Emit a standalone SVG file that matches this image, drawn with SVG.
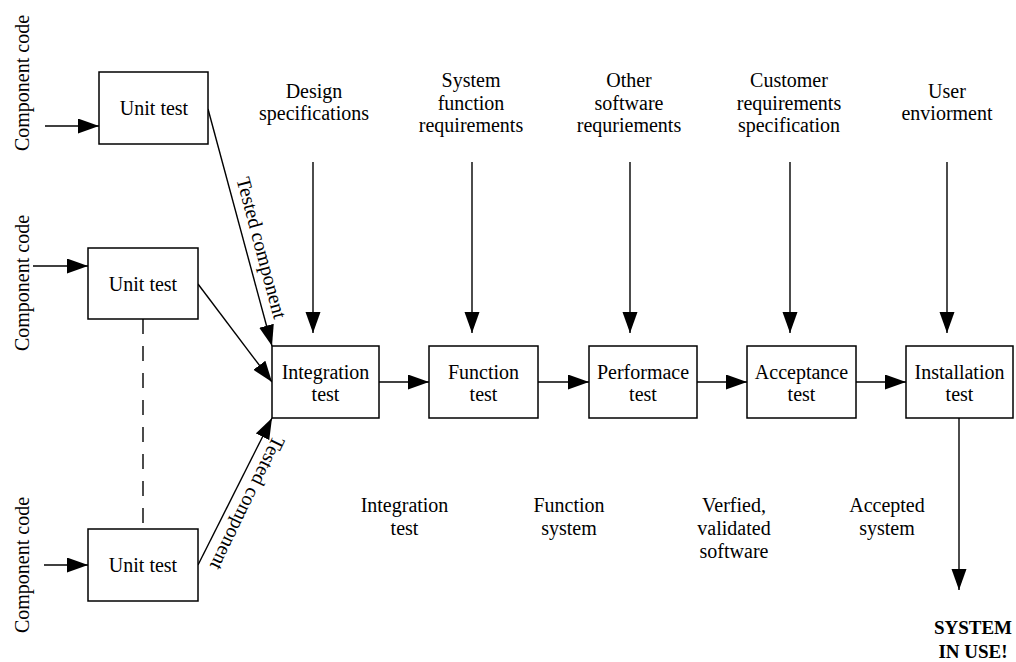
<svg xmlns="http://www.w3.org/2000/svg" width="1016" height="662" viewBox="0 0 1016 662">
<style>
text{font-family:"Liberation Serif","Times New Roman",serif;font-size:20px;fill:#000;text-anchor:middle}
.b{font-weight:bold;font-size:19px}
.box{fill:#fff;stroke:#000;stroke-width:1.5}
.ln{fill:none;stroke:#000;stroke-width:1.4}
.ar{marker-end:url(#ah)}
</style>
<defs>
<marker id="ah" markerUnits="userSpaceOnUse" markerWidth="22" markerHeight="16" refX="21" refY="7.5" orient="auto">
<path d="M0,0 L21,7.5 L0,15 z" fill="#000"/>
</marker>
</defs>
<rect width="1016" height="662" fill="#fff"/>
<g id="connectors">
<line class="ln ar" x1="45" y1="126" x2="99" y2="126"/>
<line class="ln ar" x1="33" y1="266" x2="88" y2="266"/>
<line class="ln ar" x1="44" y1="565" x2="88" y2="565"/>
<line class="ln" x1="143" y1="319" x2="143" y2="529" stroke-dasharray="15 12"/>
<line class="ln ar" x1="208" y1="109" x2="272" y2="346"/>
<line class="ln ar" x1="198" y1="284" x2="272" y2="382"/>
<line class="ln ar" x1="198" y1="565" x2="272" y2="418"/>
<line class="ln ar" x1="379" y1="382" x2="429" y2="382"/>
<line class="ln ar" x1="538" y1="382" x2="589" y2="382"/>
<line class="ln ar" x1="697" y1="382" x2="747" y2="382"/>
<line class="ln ar" x1="856" y1="382" x2="906" y2="382"/>
<line class="ln ar" x1="313" y1="162" x2="313" y2="333"/>
<line class="ln ar" x1="472" y1="162" x2="472" y2="333"/>
<line class="ln ar" x1="630" y1="162" x2="630" y2="333"/>
<line class="ln ar" x1="790" y1="162" x2="790" y2="333"/>
<line class="ln ar" x1="947" y1="162" x2="947" y2="333"/>
<line class="ln ar" x1="959" y1="418" x2="959" y2="590"/>
<text transform="translate(261,248) rotate(75)" dy="6">Tested component</text>
<text transform="translate(247,503) rotate(116)" dy="6">Tested component</text>
</g>
<g id="cc1"><text transform="translate(29,83) rotate(-90)">Component code</text></g>
<g id="cc2"><text transform="translate(29,283) rotate(-90)">Component code</text></g>
<g id="cc3"><text transform="translate(29,565) rotate(-90)">Component code</text></g>
<g id="unit1"><rect class="box" x="99" y="72" width="109" height="72"/><text x="154" y="115">Unit test</text></g>
<g id="unit2"><rect class="box" x="88" y="248" width="110" height="71"/><text x="143" y="291">Unit test</text></g>
<g id="unit3"><rect class="box" x="88" y="529" width="110" height="72"/><text x="143" y="572">Unit test</text></g>
<g id="integration"><rect class="box" x="272" y="346" width="107" height="72"/><text x="325.5" y="379">Integration</text><text x="325.5" y="401">test</text></g>
<g id="function"><rect class="box" x="429" y="346" width="109" height="72"/><text x="483.5" y="379">Function</text><text x="483.5" y="401">test</text></g>
<g id="performance"><rect class="box" x="589" y="346" width="108" height="72"/><text x="643" y="379">Performace</text><text x="643" y="401">test</text></g>
<g id="acceptance"><rect class="box" x="747" y="346" width="109" height="72"/><text x="801.5" y="379">Acceptance</text><text x="801.5" y="401">test</text></g>
<g id="installation"><rect class="box" x="906" y="346" width="107" height="72"/><text x="959.5" y="379">Installation</text><text x="959.5" y="401">test</text></g>
<g id="in-design"><text x="314" y="98">Design</text><text x="314" y="120">specifications</text></g>
<g id="in-sysfunc"><text x="471" y="87">System</text><text x="471" y="109.5">function</text><text x="471" y="132">requirements</text></g>
<g id="in-other"><text x="629" y="87">Other</text><text x="629" y="109.5">software</text><text x="629" y="132">requriements</text></g>
<g id="in-customer"><text x="789" y="87">Customer</text><text x="789" y="109.5">requirements</text><text x="789" y="132">specification</text></g>
<g id="in-user"><text x="947" y="98">User</text><text x="947" y="120">enviorment</text></g>
<g id="out-integration"><text x="404.5" y="512">Integration</text><text x="404.5" y="535">test</text></g>
<g id="out-function"><text x="569" y="512">Function</text><text x="569" y="535">system</text></g>
<g id="out-verified"><text x="734" y="512">Verfied,</text><text x="734" y="535">validated</text><text x="734" y="558">software</text></g>
<g id="out-accepted"><text x="887" y="512">Accepted</text><text x="887" y="535">system</text></g>
<g id="system-in-use"><text class="b" x="973" y="634">SYSTEM</text><text class="b" x="973" y="658">IN USE!</text></g>
</svg>
